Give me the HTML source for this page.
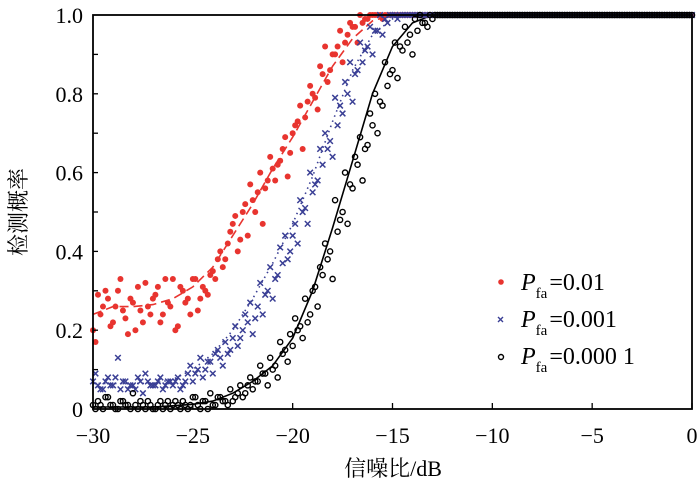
<!DOCTYPE html>
<html><head><meta charset="utf-8"><style>
html,body{margin:0;padding:0;background:#fff;}
svg{display:block;font-family:"Liberation Serif","Noto Serif CJK SC",serif;}
</style></head><body>
<svg id="chart" width="700" height="489" viewBox="0 0 700 489" xmlns="http://www.w3.org/2000/svg">
<g id="fits"></g><g id="marks"></g><g id="axes"></g>
<text x="393" y="476" font-size="22" text-anchor="middle" font-family="Liberation Serif, Noto Serif CJK SC, serif">信噪比/dB</text>
<text transform="translate(26,212) rotate(-90)" font-size="22" text-anchor="middle" font-family="Liberation Serif, Noto Serif CJK SC, serif">检测概率</text>
<g font-size="24">
<circle cx="501" cy="282" r="2.8" fill="#e8342f"/>
<text x="521" y="290"><tspan font-style="italic">P</tspan><tspan font-size="15" dy="8">fa</tspan><tspan dy="-8" dx="2">=0.01</tspan></text>
<path d="M498,317 l5,5 M503,317 l-5,5" stroke="#3a3f95" stroke-width="1.4"/>
<text x="521" y="327"><tspan font-style="italic">P</tspan><tspan font-size="15" dy="8">fa</tspan><tspan dy="-8" dx="2">=0.001</tspan></text>
<circle cx="501" cy="357" r="2.5" fill="none" stroke="#000" stroke-width="1.4"/>
<text x="521" y="364"><tspan font-style="italic">P</tspan><tspan font-size="15" dy="8">fa</tspan><tspan dy="-8" dx="2">=0.000 1</tspan></text>
</g>
</svg>
<script>
const ones = n => Array(n).fill(1);
const snrScatter = Array.from({length:121}, (_, i) => -30 + i*0.25);
const snrScatter2 = Array.from({length:120}, (_, i) => -29.875 + i*0.25);
const red = [0.20,0.29,0.26,0.28,0.22,0.30,0.25,0.19,0.27,0.31,0.22,0.26,0.28,
 0.31,0.24,0.27,0.33,0.21,0.30,0.28,0.33,0.25,0.31,0.29,0.35,
 0.38,0.36,0.42,0.47,0.40,0.50,0.44,0.53,0.55,0.47,0.58,0.61,
 0.62,0.66,0.59,0.70,0.73,0.66,0.78,0.80,0.76,0.85,0.83,0.90,
 0.92,0.88,0.95,0.97,0.93,0.98,0.99,1,1,0.99,1,1].concat(ones(60));
const red2 = [0.17,0.24,0.30,0.21,0.26,0.33,0.23,0.28,0.20,0.25,0.32,0.24,
 0.29,0.22,0.33,0.26,0.20,0.31,0.27,0.24,0.33,0.28,0.30,0.34,
 0.33,0.40,0.38,0.45,0.49,0.43,0.52,0.57,0.50,0.60,0.56,0.64,
 0.58,0.63,0.69,0.65,0.72,0.77,0.74,0.82,0.79,0.87,0.92,0.86,
 0.90,0.96,0.93,0.98,0.97,1,0.99,1,1,1,1,1].concat(ones(60));
const blue = [0.07,0.06,0.05,0.08,0.06,0.13,0.07,0.05,0.06,0.08,0.04,0.07,0.06,
 0.07,0.05,0.07,0.06,0.08,0.06,0.09,0.07,0.10,0.08,0.12,0.09,0.15,0.11,
 0.14,0.18,0.16,0.20,0.22,0.19,0.26,0.24,0.30,0.28,0.34,0.37,
 0.38,0.44,0.42,0.50,0.47,0.55,0.58,0.62,0.66,0.64,0.72,0.75,
 0.80,0.78,0.86,0.88,0.92,0.90,0.96,0.95,0.98,1,0.99,1].concat(ones(58));
const blue2 = [0.09,0.05,0.07,0.06,0.08,0.05,0.07,0.06,0.05,0.07,0.09,0.06,
 0.06,0.08,0.06,0.07,0.07,0.05,0.07,0.11,0.09,0.13,0.10,0.12,0.14,0.13,
 0.17,0.15,0.21,0.18,0.24,0.27,0.23,0.32,0.29,0.36,0.33,0.41,
 0.44,0.40,0.47,0.53,0.51,0.60,0.57,0.66,0.70,0.68,0.79,0.77,
 0.83,0.88,0.85,0.93,0.91,0.97,0.96,1,0.99,1,1,1].concat(ones(58));
const black = [0.01,0.02,0.00,0.03,0.01,0.00,0.02,0.01,0.04,0.00,0.01,0.02,0.00,
 0.01,0.00,0.02,0.01,
 0.01,0.02,0.00,0.03,0.01,0.02,0.00,0.01,0.03,0.02,0.01,0.02,
 0.04,0.03,0.06,0.05,0.07,0.09,0.06,0.10,0.08,0.14,0.12,0.16,
 0.20,0.18,0.22,0.30,0.26,0.34,0.38,0.33,0.45,0.50,0.47,0.56,
 0.62,0.58,0.67,0.72,0.70,0.77,0.82,0.86,0.84,0.91,0.93,0.90,
 0.96,0.98,0.97,0.99].concat(ones(52));
const black2 = [0.00,0.01,0.03,0.01,0.00,0.02,0.01,0.00,0.01,0.02,0.00,0.01,
 0.00,0.02,0.01,0.00,
 0.02,0.00,0.01,0.01,0.03,0.00,0.02,0.04,0.01,0.03,0.02,0.05,
 0.03,0.06,0.04,0.08,0.07,0.11,0.09,0.13,0.11,0.17,0.15,0.19,
 0.23,0.21,0.28,0.24,0.31,0.36,0.42,0.40,0.53,0.48,0.60,0.57,
 0.64,0.69,0.66,0.75,0.80,0.78,0.88,0.85,0.93,0.92,0.97,0.95,
 0.99,1,0.98,1].concat(ones(52));
const snrFit = [-30,-29,-28,-27,-26,-25,-24,-23,-22,-21,-20,-19,-18,-17,-16,-15,-14,-13,-12,-10,-5,0];
const redFit = [0.24,0.26,0.26,0.265,0.28,0.31,0.36,0.44,0.52,0.61,0.69,0.78,0.87,0.94,0.985,1,1,1,1,1,1,1];
const blueFit = [0.065,0.065,0.065,0.065,0.075,0.10,0.14,0.20,0.28,0.37,0.47,0.59,0.73,0.86,0.95,0.99,1,1,1,1,1,1];
const blackFit = [0.005,0.005,0.005,0.005,0.008,0.012,0.02,0.04,0.07,0.11,0.18,0.30,0.46,0.63,0.80,0.92,0.98,1,1,1,1,1];
const xTicks = [-30,-25,-20,-15,-10,-5,0];
const xTickLabels = ["\u221230","\u221225","\u221220","\u221215","\u221210","\u22125","0"];
const yTicks = [0,0.2,0.4,0.6,0.8,1.0];
const yTickLabels = ["0","0.2","0.4","0.6","0.8","1.0"];

const X0=93,X1=692,Y0=409,Y1=15;
const sx = v => X0 + (v+30)/30*(X1-X0);
const sy = v => Y0 - v*(Y0-Y1);
const NS="http://www.w3.org/2000/svg";
function mk(tag, parent){const e=document.createElementNS(NS,tag);parent.appendChild(e);return e;}
const fits=document.getElementById('fits'), marks=document.getElementById('marks'), axes=document.getElementById('axes');

function fitLine(ys, color, dash, name){
  const p=mk('path',fits);
  
  
  p.setAttribute('d', ys.map((y,i)=>(i?'L':'M')+sx(snrFit[i]).toFixed(1)+','+sy(y).toFixed(1)).join(''));
  p.setAttribute('fill','none');p.setAttribute('stroke',color);p.setAttribute('stroke-width','1.6');
  if(dash)p.setAttribute('stroke-dasharray',dash);
}
fitLine(redFit,'#e8342f','9,5','fit-line-001');
fitLine(blueFit,'#3a3f95','1.5,4','fit-line-0001');
fitLine(blackFit,'#000','','fit-line-00001');

function redPts(vals, xs){
  vals.forEach((v,i)=>{
    const c=mk('circle',marks);
    
    
    c.setAttribute('cx',sx(xs[i]));c.setAttribute('cy',sy(v));c.setAttribute('r','3');c.setAttribute('fill','#e8342f');
  });
}
function bluePts(vals, xs){
  vals.forEach((v,i)=>{
    const x=sx(xs[i]), y=sy(v);
    const p=mk('path',marks);
    
    
    p.setAttribute('d',`M${x-2.8},${y-2.8}l5.6,5.6M${x+2.8},${y-2.8}l-5.6,5.6`);
    p.setAttribute('stroke','#3a3f95');p.setAttribute('stroke-width','1.5');
  });
}
function blackPts(vals, xs){
  vals.forEach((v,i)=>{
    const c=mk('circle',marks);
    
    
    c.setAttribute('cx',sx(xs[i]));c.setAttribute('cy',sy(v));c.setAttribute('r','2.6');
    c.setAttribute('fill','none');c.setAttribute('stroke','#000');c.setAttribute('stroke-width','1.4');
  });
}
redPts(red, snrScatter); redPts(red2, snrScatter2);
bluePts(blue, snrScatter); bluePts(blue2, snrScatter2);
blackPts(black, snrScatter); blackPts(black2, snrScatter2);

const frame=mk('rect',axes);


frame.setAttribute('x',X0);frame.setAttribute('y',Y1);frame.setAttribute('width',X1-X0);frame.setAttribute('height',Y0-Y1);
frame.setAttribute('fill','none');frame.setAttribute('stroke','#000');frame.setAttribute('stroke-width','1.8');

xTicks.forEach((t,i)=>{
  const l=mk('line',axes);
  
  
  l.setAttribute('x1',sx(t));l.setAttribute('x2',sx(t));l.setAttribute('y1',Y0);l.setAttribute('y2',Y0-6);
  l.setAttribute('stroke','#000');l.setAttribute('stroke-width','1.3');
  const tx=mk('text',axes);
  
  
  tx.setAttribute('x',sx(t));tx.setAttribute('y',443);tx.setAttribute('font-size','22');tx.setAttribute('text-anchor','middle');
  tx.textContent=xTickLabels[i];
});
for(let k=1;k<10;k++){
  const l=mk('line',axes);
  
  
  l.setAttribute('x1',X0);l.setAttribute('x2',X0+5);l.setAttribute('y1',sy(k/10));l.setAttribute('y2',sy(k/10));
  l.setAttribute('stroke','#000');l.setAttribute('stroke-width','1.3');
}
yTicks.forEach((t,i)=>{
  const tx=mk('text',axes);
  
  
  tx.setAttribute('x',83);tx.setAttribute('y',sy(t)+8);tx.setAttribute('font-size','22');tx.setAttribute('text-anchor','end');
  tx.textContent=yTickLabels[i];
});
</script>
</body></html>
